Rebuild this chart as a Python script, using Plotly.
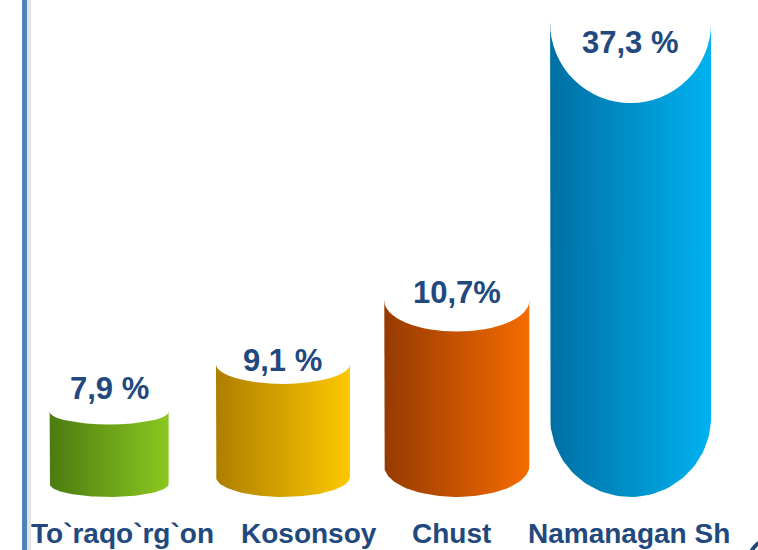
import numpy as np
import plotly.graph_objects as go

# ---- data ----
categories = ["To`raqo`rg`on", "Kosonsoy", "Chust", "Namanagan Sh"]
values = [7.9, 9.1, 10.7, 37.3]
value_labels = ["7,9 %", "9,1 %", "10,7%", "37,3 %"]

# ---- styles ----
left_colors = ["#4C7B0F", "#AE7E00", "#963A00", "#006FA3"]
right_colors = ["#8BC820", "#FDC800", "#F56B00", "#00B2F0"]
bar_width_px = [119, 134, 145, 161]
ellipse_px = [13, 20, 31, 80]
label_yshift = [23, 3, 8, -20]
cat_xshift = [13, 26, -5, -2]

W, H = 758, 550
Y_RANGE = [4.40, 18.29]
X_RANGE = [-0.628, 3.733]
FLOOR = 5.74   # lowest point of every cylinder
CAP = 17.71    # tall bars are cut here (top of the visible area)

px_per_y = H / (Y_RANGE[1] - Y_RANGE[0])
px_per_x = W / (X_RANGE[1] - X_RANGE[0])

TEXT_COLOR = "#22497E"
FONT = "Liberation Sans, Arial, sans-serif"

fig = go.Figure()
shapes = []
annotations = []

for i, (cat, v, lab) in enumerate(zip(categories, values, value_labels)):
    top = min(v, CAP)
    half_w = bar_width_px[i] / px_per_x / 2
    h = ellipse_px[i] / px_per_y
    x0, x1 = i - half_w, i + half_w
    bottom_c = FLOOR + h
    t = np.linspace(np.pi, 2 * np.pi, 60)
    arc_x = i + half_w * np.cos(t)
    arc_y = bottom_c + h * np.sin(t)
    xs = [x0] + list(arc_x) + [x1, x1, x0, x0]
    ys = [top] + list(arc_y) + [bottom_c, top, top, top]
    fig.add_trace(go.Scatter(
        x=xs, y=ys, mode="lines", fill="toself",
        line=dict(width=0, color=right_colors[i]),
        fillgradient=dict(type="horizontal",
                          colorscale=[[0, left_colors[i]], [1, right_colors[i]]]),
        hoverinfo="skip", showlegend=False,
    ))
    # white top ellipse
    shapes.append(dict(type="circle", xref="x", yref="y",
                       x0=x0, x1=x1, y0=top - h, y1=top + h,
                       fillcolor="white", line=dict(width=0), layer="above"))
    annotations.append(dict(x=i, y=top, xref="x", yref="y", text=lab,
                            showarrow=False, yshift=label_yshift[i],
                            xanchor="center", yanchor="middle",
                            font=dict(family=FONT, size=31, color=TEXT_COLOR, weight="bold")))
    annotations.append(dict(x=i, y=1 - 533 / H, xref="x", yref="paper", text=cat,
                            showarrow=False, xshift=cat_xshift[i],
                            xanchor="center", yanchor="middle",
                            font=dict(family=FONT, size=28, color=TEXT_COLOR, weight="bold")))

# left vertical rule with faint shadow
shapes.append(dict(type="line", xref="paper", yref="paper",
                   x0=29 / W, x1=29 / W, y0=0, y1=1,
                   line=dict(color="#E4E4E4", width=4), layer="below"))
shapes.append(dict(type="line", xref="paper", yref="paper",
                   x0=24.5 / W, x1=24.5 / W, y0=0, y1=1,
                   line=dict(color="#4F81BD", width=5), layer="above"))
# partial round badge at the bottom-right corner
shapes.append(dict(type="circle", xref="paper", yref="paper",
                   x0=748 / W, x1=800 / W, y0=1 - 590 / H, y1=1 - 538 / H,
                   fillcolor="white", line=dict(color="#1F497D", width=4), layer="above"))

fig.update_layout(
    width=W, height=H,
    margin=dict(l=0, r=0, t=0, b=0),
    paper_bgcolor="white", plot_bgcolor="white",
    xaxis=dict(range=X_RANGE, visible=False, fixedrange=True),
    yaxis=dict(range=Y_RANGE, visible=False, fixedrange=True),
    shapes=shapes, annotations=annotations, showlegend=False,
)

fig.write_html("out.html", config={"displayModeBar": False},
               post_script="document.body.style.margin='0';document.body.style.overflow='hidden';")
